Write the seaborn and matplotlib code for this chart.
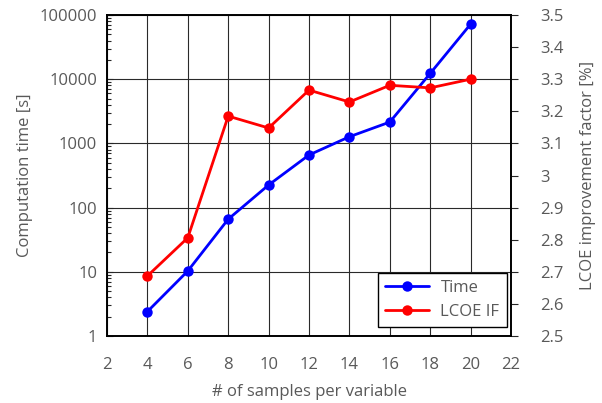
import matplotlib
matplotlib.use("Agg")
import matplotlib.pyplot as plt
import seaborn as sns
import pandas as pd
from matplotlib.ticker import LogLocator, NullFormatter

samples = [4, 6, 8, 10, 12, 14, 16, 18, 20]
time_s = [2.4, 10.3, 66, 225, 660, 1270, 2150, 12300, 72000]
lcoe_if = [2.687, 2.806, 3.185, 3.148, 3.266, 3.229, 3.281, 3.273, 3.300]
x_ticks = [2, 4, 6, 8, 10, 12, 14, 16, 18, 20, 22]
y1_ticks = [1, 10, 100, 1000, 10000, 100000]
y1_labels = ["1", "10", "100", "1000", "10000", "100000"]
y2_ticks = [2.5, 2.6, 2.7, 2.8, 2.9, 3.0, 3.1, 3.2, 3.3, 3.4, 3.5]
y2_labels = ["2.5", "2.6", "2.7", "2.8", "2.9", "3", "3.1", "3.2", "3.3", "3.4", "3.5"]

sns.set_style("white")
plt.rcParams['font.family'] = ['Open Sans', 'DejaVu Sans']
txt = "#595959"

df = pd.DataFrame({"samples": samples, "time": time_s, "lcoe": lcoe_if})

fig = plt.figure(figsize=(6.02, 4.03), dpi=100)
ax1 = fig.add_axes([107/602, 1-336/403, (511-107)/602, (336-15)/403])
ax2 = ax1.twinx()

sns.lineplot(data=df, x="samples", y="time", ax=ax1, color="#0000FF", marker="o",
             markersize=7.5, linewidth=2, markeredgewidth=0, label="Time", legend=False)
sns.lineplot(data=df, x="samples", y="lcoe", ax=ax2, color="#FF0000", marker="o",
             markersize=7.5, linewidth=2, markeredgewidth=0, label="LCOE IF", legend=False)

ax1.set_yscale("log")
ax1.set_ylim(1, 100000)
ax1.set_xlim(2, 22)
ax2.set_ylim(2.5, 3.5)

ax1.set_xticks(x_ticks)
ax1.set_xticklabels([str(v) for v in x_ticks])
ax1.set_yticks(y1_ticks)
ax1.set_yticklabels(y1_labels)
ax1.yaxis.set_minor_locator(LogLocator(base=10, subs=range(2, 10)))
ax1.yaxis.set_minor_formatter(NullFormatter())
ax2.set_yticks(y2_ticks)
ax2.set_yticklabels(y2_labels)

ax1.grid(True, which="major", color="#2a2a2a", linewidth=0.8, linestyle="-")
ax1.set_axisbelow(True)

ax1.tick_params(axis="x", length=0, labelsize=12, labelcolor=txt, pad=15)
ax1.tick_params(axis="y", which="major", direction="in", length=4, labelsize=12, labelcolor=txt, pad=7)
ax1.tick_params(axis="y", which="minor", direction="in", length=3, width=0.8)
ax2.tick_params(axis="y", direction="out", length=5, labelsize=12, labelcolor=txt, pad=16)

for ax in (ax1, ax2):
    for s in ax.spines.values():
        s.set_color("black")
        s.set_linewidth(1.2)

ax1.set_xlabel("# of samples per variable", fontsize=12, color=txt, labelpad=8)
ax1.set_ylabel("Computation time [s]", fontsize=12, color=txt, labelpad=5)
ax2.set_ylabel("LCOE improvement factor [%]", fontsize=12, color=txt, labelpad=12)

h1, l1 = ax1.get_legend_handles_labels()
h2, l2 = ax2.get_legend_handles_labels()
leg = ax2.legend(h1 + h2, l1 + l2, loc="lower right", bbox_to_anchor=(0.990, 0.028),
                 borderaxespad=0, frameon=True, fancybox=False, fontsize=12, labelcolor=txt,
                 edgecolor="black", framealpha=1, borderpad=0.45, handlelength=2.6,
                 handletextpad=0.7, labelspacing=0.45)
leg.get_frame().set_linewidth(1.0)

fig.savefig("out.png", dpi=100)
